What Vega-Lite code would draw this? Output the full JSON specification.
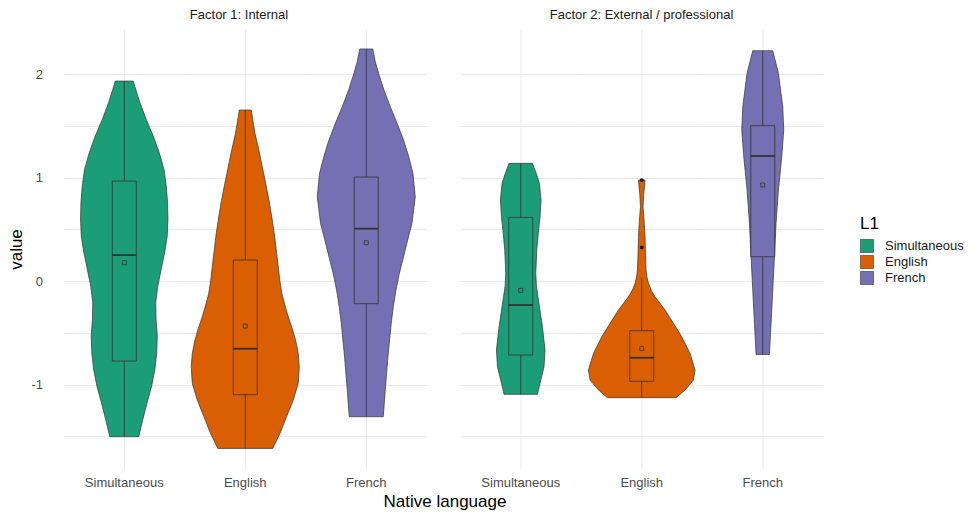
{
  "$schema": "https://vega.github.io/schema/vega-lite/v6.json",
  "padding": {"left": 7, "top": 9, "right": 0, "bottom": 0},
  "background": "white",
  "title": {"text": "Native language", "orient": "bottom", "anchor": "middle", "fontSize": 17, "fontWeight": "normal", "color": "#000000", "offset": 4, "dx": -41},
  "config": {
    "font": "Liberation Sans",
    "view": {"stroke": null},
    "axis": {"gridColor": "#ebebeb", "gridWidth": 1, "domain": false, "ticks": false, "labelColor": "#4d4d4d", "labelFontSize": 13, "titleColor": "#000000", "titleFontSize": 17, "titleFontWeight": "normal"},
    "header": {"labelFontSize": 13, "labelColor": "#4d4d4d", "labelOrient": "bottom", "labelPadding": 8, "titleOrient": "top", "titleFontSize": 13, "titleFontWeight": "normal", "titleColor": "#1a1a1a", "titlePadding": -3},
    "legend": {"titleFontSize": 17, "titleFontWeight": "normal", "titleColor": "#000000", "labelFontSize": 13, "labelColor": "#1a1a1a", "symbolType": "square", "symbolSize": 169, "symbolStrokeColor": "#333333", "symbolStrokeWidth": 0.6, "symbolOpacity": 1, "rowPadding": 0, "titlePadding": 6, "labelOffset": 11}
  },
  "datasets": {
    "all": [
      {"factor": "F1", "L1": "Simultaneous", "kind": "violin", "value": 1.932, "left": -9.0, "right": 9.0},
      {"factor": "F1", "L1": "Simultaneous", "kind": "violin", "value": 1.85, "left": -11.5, "right": 11.5},
      {"factor": "F1", "L1": "Simultaneous", "kind": "violin", "value": 1.723, "left": -15.7, "right": 15.7},
      {"factor": "F1", "L1": "Simultaneous", "kind": "violin", "value": 1.56, "left": -22, "right": 22},
      {"factor": "F1", "L1": "Simultaneous", "kind": "violin", "value": 1.401, "left": -29, "right": 29},
      {"factor": "F1", "L1": "Simultaneous", "kind": "violin", "value": 1.24, "left": -35, "right": 35},
      {"factor": "F1", "L1": "Simultaneous", "kind": "violin", "value": 1.08, "left": -39.7, "right": 39.7},
      {"factor": "F1", "L1": "Simultaneous", "kind": "violin", "value": 0.92, "left": -42, "right": 42},
      {"factor": "F1", "L1": "Simultaneous", "kind": "violin", "value": 0.759, "left": -43.3, "right": 43.3},
      {"factor": "F1", "L1": "Simultaneous", "kind": "violin", "value": 0.598, "left": -43.7, "right": 43.7},
      {"factor": "F1", "L1": "Simultaneous", "kind": "violin", "value": 0.437, "left": -43, "right": 43},
      {"factor": "F1", "L1": "Simultaneous", "kind": "violin", "value": 0.28, "left": -40.5, "right": 40.5},
      {"factor": "F1", "L1": "Simultaneous", "kind": "violin", "value": 0.116, "left": -37, "right": 37},
      {"factor": "F1", "L1": "Simultaneous", "kind": "violin", "value": -0.05, "left": -33.5, "right": 33.5},
      {"factor": "F1", "L1": "Simultaneous", "kind": "violin", "value": -0.206, "left": -31.5, "right": 31.5},
      {"factor": "F1", "L1": "Simultaneous", "kind": "violin", "value": -0.37, "left": -31.8, "right": 31.8},
      {"factor": "F1", "L1": "Simultaneous", "kind": "violin", "value": -0.527, "left": -33, "right": 33},
      {"factor": "F1", "L1": "Simultaneous", "kind": "violin", "value": -0.69, "left": -32.5, "right": 32.5},
      {"factor": "F1", "L1": "Simultaneous", "kind": "violin", "value": -0.849, "left": -30.7, "right": 30.7},
      {"factor": "F1", "L1": "Simultaneous", "kind": "violin", "value": -1.01, "left": -27.5, "right": 27.5},
      {"factor": "F1", "L1": "Simultaneous", "kind": "violin", "value": -1.17, "left": -23, "right": 23},
      {"factor": "F1", "L1": "Simultaneous", "kind": "violin", "value": -1.34, "left": -18.5, "right": 18.5},
      {"factor": "F1", "L1": "Simultaneous", "kind": "violin", "value": -1.504, "left": -14.5, "right": 14.5},

      {"factor": "F1", "L1": "English", "kind": "violin", "value": 1.652, "left": -6.0, "right": 6.0},
      {"factor": "F1", "L1": "English", "kind": "violin", "value": 1.54, "left": -7.8, "right": 7.8},
      {"factor": "F1", "L1": "English", "kind": "violin", "value": 1.427, "left": -9.7, "right": 9.7},
      {"factor": "F1", "L1": "English", "kind": "violin", "value": 1.27, "left": -13.5, "right": 13.5},
      {"factor": "F1", "L1": "English", "kind": "violin", "value": 1.104, "left": -17, "right": 17},
      {"factor": "F1", "L1": "English", "kind": "violin", "value": 0.94, "left": -20.5, "right": 20.5},
      {"factor": "F1", "L1": "English", "kind": "violin", "value": 0.783, "left": -23.7, "right": 23.7},
      {"factor": "F1", "L1": "English", "kind": "violin", "value": 0.62, "left": -26.5, "right": 26.5},
      {"factor": "F1", "L1": "English", "kind": "violin", "value": 0.461, "left": -29, "right": 29},
      {"factor": "F1", "L1": "English", "kind": "violin", "value": 0.3, "left": -31, "right": 31},
      {"factor": "F1", "L1": "English", "kind": "violin", "value": 0.138, "left": -33, "right": 33},
      {"factor": "F1", "L1": "English", "kind": "violin", "value": 0.01, "left": -34.5, "right": 34.5},
      {"factor": "F1", "L1": "English", "kind": "violin", "value": -0.119, "left": -36.5, "right": 36.5},
      {"factor": "F1", "L1": "English", "kind": "violin", "value": -0.23, "left": -39.5, "right": 39.5},
      {"factor": "F1", "L1": "English", "kind": "violin", "value": -0.345, "left": -43, "right": 43},
      {"factor": "F1", "L1": "English", "kind": "violin", "value": -0.46, "left": -47, "right": 47},
      {"factor": "F1", "L1": "English", "kind": "violin", "value": -0.57, "left": -50.3, "right": 50.3},
      {"factor": "F1", "L1": "English", "kind": "violin", "value": -0.7, "left": -53, "right": 53},
      {"factor": "F1", "L1": "English", "kind": "violin", "value": -0.828, "left": -54, "right": 54},
      {"factor": "F1", "L1": "English", "kind": "violin", "value": -0.988, "left": -53, "right": 53},
      {"factor": "F1", "L1": "English", "kind": "violin", "value": -1.15, "left": -48, "right": 48},
      {"factor": "F1", "L1": "English", "kind": "violin", "value": -1.311, "left": -41.3, "right": 41.3},
      {"factor": "F1", "L1": "English", "kind": "violin", "value": -1.472, "left": -34.7, "right": 34.7},
      {"factor": "F1", "L1": "English", "kind": "violin", "value": -1.617, "left": -27.5, "right": 27.5},

      {"factor": "F1", "L1": "French", "kind": "violin", "value": 2.242, "left": -6.5, "right": 6.5},
      {"factor": "F1", "L1": "French", "kind": "violin", "value": 2.12, "left": -9, "right": 9},
      {"factor": "F1", "L1": "French", "kind": "violin", "value": 2.007, "left": -12.3, "right": 12.3},
      {"factor": "F1", "L1": "French", "kind": "violin", "value": 1.85, "left": -17.5, "right": 17.5},
      {"factor": "F1", "L1": "French", "kind": "violin", "value": 1.684, "left": -24, "right": 24},
      {"factor": "F1", "L1": "French", "kind": "violin", "value": 1.52, "left": -31, "right": 31},
      {"factor": "F1", "L1": "French", "kind": "violin", "value": 1.362, "left": -37.3, "right": 37.3},
      {"factor": "F1", "L1": "French", "kind": "violin", "value": 1.2, "left": -42.5, "right": 42.5},
      {"factor": "F1", "L1": "French", "kind": "violin", "value": 1.04, "left": -46.7, "right": 46.7},
      {"factor": "F1", "L1": "French", "kind": "violin", "value": 0.815, "left": -49, "right": 49},
      {"factor": "F1", "L1": "French", "kind": "violin", "value": 0.557, "left": -45.7, "right": 45.7},
      {"factor": "F1", "L1": "French", "kind": "violin", "value": 0.4, "left": -41.5, "right": 41.5},
      {"factor": "F1", "L1": "French", "kind": "violin", "value": 0.235, "left": -37.3, "right": 37.3},
      {"factor": "F1", "L1": "French", "kind": "violin", "value": 0.07, "left": -33, "right": 33},
      {"factor": "F1", "L1": "French", "kind": "violin", "value": -0.087, "left": -29.7, "right": 29.7},
      {"factor": "F1", "L1": "French", "kind": "violin", "value": -0.25, "left": -27, "right": 27},
      {"factor": "F1", "L1": "French", "kind": "violin", "value": -0.409, "left": -25, "right": 25},
      {"factor": "F1", "L1": "French", "kind": "violin", "value": -0.731, "left": -21.7, "right": 21.7},
      {"factor": "F1", "L1": "French", "kind": "violin", "value": -1.053, "left": -19, "right": 19},
      {"factor": "F1", "L1": "French", "kind": "violin", "value": -1.311, "left": -17, "right": 17},

      {"factor": "F2", "L1": "Simultaneous", "kind": "violin", "value": 1.137, "left": -11.7, "right": 11.7},
      {"factor": "F2", "L1": "Simultaneous", "kind": "violin", "value": 1.04, "left": -15.5, "right": 15.5},
      {"factor": "F2", "L1": "Simultaneous", "kind": "violin", "value": 0.944, "left": -18.7, "right": 18.7},
      {"factor": "F2", "L1": "Simultaneous", "kind": "violin", "value": 0.783, "left": -20.3, "right": 20.3},
      {"factor": "F2", "L1": "Simultaneous", "kind": "violin", "value": 0.621, "left": -19.3, "right": 19.3},
      {"factor": "F2", "L1": "Simultaneous", "kind": "violin", "value": 0.46, "left": -17.5, "right": 17.5},
      {"factor": "F2", "L1": "Simultaneous", "kind": "violin", "value": 0.3, "left": -16, "right": 16},
      {"factor": "F2", "L1": "Simultaneous", "kind": "violin", "value": 0.074, "left": -15, "right": 15},
      {"factor": "F2", "L1": "Simultaneous", "kind": "violin", "value": -0.05, "left": -15.7, "right": 15.7},
      {"factor": "F2", "L1": "Simultaneous", "kind": "violin", "value": -0.184, "left": -17.7, "right": 17.7},
      {"factor": "F2", "L1": "Simultaneous", "kind": "violin", "value": -0.441, "left": -21.7, "right": 21.7},
      {"factor": "F2", "L1": "Simultaneous", "kind": "violin", "value": -0.667, "left": -24.3, "right": 24.3},
      {"factor": "F2", "L1": "Simultaneous", "kind": "violin", "value": -0.828, "left": -23.3, "right": 23.3},
      {"factor": "F2", "L1": "Simultaneous", "kind": "violin", "value": -0.988, "left": -19.3, "right": 19.3},
      {"factor": "F2", "L1": "Simultaneous", "kind": "violin", "value": -1.095, "left": -16.7, "right": 16.7},

      {"factor": "F2", "L1": "English", "kind": "violin", "value": 0.976, "left": -3.3, "right": 3.3},
      {"factor": "F2", "L1": "English", "kind": "violin", "value": 0.9, "left": -2.6, "right": 2.6},
      {"factor": "F2", "L1": "English", "kind": "violin", "value": 0.847, "left": -2.0, "right": 2.0},
      {"factor": "F2", "L1": "English", "kind": "violin", "value": 0.718, "left": -1.3, "right": 1.3},
      {"factor": "F2", "L1": "English", "kind": "violin", "value": 0.589, "left": -2.3, "right": 2.3},
      {"factor": "F2", "L1": "English", "kind": "violin", "value": 0.428, "left": -3.3, "right": 3.3},
      {"factor": "F2", "L1": "English", "kind": "violin", "value": 0.268, "left": -3.7, "right": 3.7},
      {"factor": "F2", "L1": "English", "kind": "violin", "value": 0.106, "left": -4.3, "right": 4.3},
      {"factor": "F2", "L1": "English", "kind": "violin", "value": 0.04, "left": -5.2, "right": 5.2},
      {"factor": "F2", "L1": "English", "kind": "violin", "value": -0.022, "left": -6.7, "right": 6.7},
      {"factor": "F2", "L1": "English", "kind": "violin", "value": -0.09, "left": -9.5, "right": 9.5},
      {"factor": "F2", "L1": "English", "kind": "violin", "value": -0.152, "left": -13.3, "right": 13.3},
      {"factor": "F2", "L1": "English", "kind": "violin", "value": -0.28, "left": -23.3, "right": 23.3},
      {"factor": "F2", "L1": "English", "kind": "violin", "value": -0.409, "left": -31.7, "right": 31.7},
      {"factor": "F2", "L1": "English", "kind": "violin", "value": -0.538, "left": -40, "right": 40},
      {"factor": "F2", "L1": "English", "kind": "violin", "value": -0.699, "left": -48.3, "right": 48.3},
      {"factor": "F2", "L1": "English", "kind": "violin", "value": -0.86, "left": -53.3, "right": 53.3},
      {"factor": "F2", "L1": "English", "kind": "violin", "value": -0.957, "left": -51.7, "right": 51.7},
      {"factor": "F2", "L1": "English", "kind": "violin", "value": -1.053, "left": -43.3, "right": 43.3},
      {"factor": "F2", "L1": "English", "kind": "violin", "value": -1.127, "left": -34.3, "right": 34.3},

      {"factor": "F2", "L1": "French", "kind": "violin", "value": 2.225, "left": -10, "right": 10},
      {"factor": "F2", "L1": "French", "kind": "violin", "value": 2.007, "left": -15.7, "right": 15.7},
      {"factor": "F2", "L1": "French", "kind": "violin", "value": 1.684, "left": -20, "right": 20},
      {"factor": "F2", "L1": "French", "kind": "violin", "value": 1.459, "left": -21, "right": 21},
      {"factor": "F2", "L1": "French", "kind": "violin", "value": 1.201, "left": -19, "right": 19},
      {"factor": "F2", "L1": "French", "kind": "violin", "value": 0.879, "left": -15.7, "right": 15.7},
      {"factor": "F2", "L1": "French", "kind": "violin", "value": 0.557, "left": -13.3, "right": 13.3},
      {"factor": "F2", "L1": "French", "kind": "violin", "value": 0.235, "left": -11.7, "right": 11.7},
      {"factor": "F2", "L1": "French", "kind": "violin", "value": -0.087, "left": -10, "right": 10},
      {"factor": "F2", "L1": "French", "kind": "violin", "value": -0.409, "left": -8.3, "right": 8.3},
      {"factor": "F2", "L1": "French", "kind": "violin", "value": -0.709, "left": -6.7, "right": 6.7},

      {"factor": "F1", "L1": "Simultaneous", "kind": "box", "lower": -1.504, "q1": -0.773, "median": 0.251, "q3": 0.966, "upper": 1.932, "mean": 0.177},
      {"factor": "F1", "L1": "English", "kind": "box", "lower": -1.617, "q1": -1.098, "median": -0.654, "q3": 0.203, "upper": 1.652, "mean": -0.435},
      {"factor": "F1", "L1": "French", "kind": "box", "lower": -1.311, "q1": -0.219, "median": 0.506, "q3": 1.005, "upper": 2.242, "mean": 0.37},
      {"factor": "F2", "L1": "Simultaneous", "kind": "box", "lower": -1.095, "q1": -0.715, "median": -0.232, "q3": 0.615, "upper": 1.137, "mean": -0.09},
      {"factor": "F2", "L1": "English", "kind": "box", "lower": -1.127, "q1": -0.969, "median": -0.741, "q3": -0.48, "upper": 0.036, "mean": -0.651},
      {"factor": "F2", "L1": "French", "kind": "box", "lower": -0.709, "q1": 0.235, "median": 1.208, "q3": 1.501, "upper": 2.225, "mean": 0.928},

      {"factor": "F2", "L1": "English", "kind": "outlier", "value": 0.976},
      {"factor": "F2", "L1": "English", "kind": "outlier", "value": 0.325}
    ]
  },
  "hconcat": [
    {
      "data": {"name": "all"},
      "transform": [{"filter": "datum.factor == 'F1'"}],
      "facet": {"column": {"field": "L1", "type": "nominal", "sort": ["Simultaneous", "English", "French"], "title": "Factor 1: Internal"}},
      "spacing": 0,
      "bounds": "flush",
      "spec": {
        "width": 120.5,
        "height": 440,
        "layer": [
          {
            "transform": [{"filter": "datum.kind == 'violin'"}],
            "mark": {"type": "area", "orient": "horizontal", "stroke": "#333333", "strokeWidth": 0.7, "opacity": 1},
            "encoding": {
              "y": {"field": "value", "type": "quantitative", "scale": {"domain": [-1.816, 2.435], "nice": false, "zero": false},
                    "axis": {"values": [-1.5, -1, -0.5, 0, 0.5, 1, 1.5, 2], "labelExpr": "datum.value % 1 == 0 ? toString(datum.value) : ''", "title": "value", "offset": 12.5, "labelPadding": 9, "titlePadding": 5, "grid": true}},
              "x": {"field": "right", "type": "quantitative", "scale": {"domain": [-60.25, 60.25], "nice": false, "zero": false},
                    "axis": {"values": [0], "labels": false, "title": null, "grid": true}},
              "x2": {"field": "left"},
              "color": {"field": "L1", "type": "nominal", "scale": {"domain": ["Simultaneous", "English", "French"], "range": ["#1b9e77", "#d95f02", "#7570b3"]}, "legend": {"title": "L1", "orient": "none", "legendX": 796, "legendY": 187}}
            }
          },
          {
            "transform": [{"filter": "datum.kind == 'box'"}],
            "mark": {"type": "rule", "stroke": "#333333", "strokeWidth": 0.8},
            "encoding": {
              "y": {"field": "lower", "type": "quantitative"},
              "y2": {"field": "upper"},
              "x": {"datum": 0, "type": "quantitative"}
            }
          },
          {
            "transform": [{"filter": "datum.kind == 'box'"}],
            "mark": {"type": "rect", "stroke": "#333333", "strokeWidth": 0.8, "opacity": 1},
            "encoding": {
              "y": {"field": "q1", "type": "quantitative"},
              "y2": {"field": "q3"},
              "x": {"datum": -12, "type": "quantitative"},
              "x2": {"datum": 12},
              "color": {"field": "L1", "type": "nominal"}
            }
          },
          {
            "transform": [{"filter": "datum.kind == 'box'"}],
            "mark": {"type": "rule", "stroke": "#333333", "strokeWidth": 1.8},
            "encoding": {
              "y": {"field": "median", "type": "quantitative"},
              "x": {"datum": -12, "type": "quantitative"},
              "x2": {"datum": 12}
            }
          },
          {
            "transform": [{"filter": "datum.kind == 'box'"}],
            "mark": {"type": "point", "shape": "square", "size": 16, "filled": false, "stroke": "#333333", "strokeWidth": 0.8, "opacity": 1},
            "encoding": {
              "y": {"field": "mean", "type": "quantitative"},
              "x": {"datum": 0, "type": "quantitative"}
            }
          }
        ]
      }
    },
    {
      "data": {"name": "all"},
      "transform": [{"filter": "datum.factor == 'F2'"}],
      "facet": {"column": {"field": "L1", "type": "nominal", "sort": ["Simultaneous", "English", "French"], "title": "Factor 2: External / professional"}},
      "spacing": 0,
      "bounds": "flush",
      "spec": {
        "width": 120.5,
        "height": 440,
        "layer": [
          {
            "transform": [{"filter": "datum.kind == 'violin'"}],
            "mark": {"type": "area", "orient": "horizontal", "stroke": "#333333", "strokeWidth": 0.7, "opacity": 1},
            "encoding": {
              "y": {"field": "value", "type": "quantitative", "scale": {"domain": [-1.816, 2.435], "nice": false, "zero": false},
                    "axis": {"values": [-1.5, -1, -0.5, 0, 0.5, 1, 1.5, 2], "labels": false, "title": null, "grid": true}},
              "x": {"field": "right", "type": "quantitative", "scale": {"domain": [-60.25, 60.25], "nice": false, "zero": false},
                    "axis": {"values": [0], "labels": false, "title": null, "grid": true}},
              "x2": {"field": "left"},
              "color": {"field": "L1", "type": "nominal"}
            }
          },
          {
            "transform": [{"filter": "datum.kind == 'box'"}],
            "mark": {"type": "rule", "stroke": "#333333", "strokeWidth": 0.8},
            "encoding": {
              "y": {"field": "lower", "type": "quantitative"},
              "y2": {"field": "upper"},
              "x": {"datum": 0, "type": "quantitative"}
            }
          },
          {
            "transform": [{"filter": "datum.kind == 'box'"}],
            "mark": {"type": "rect", "stroke": "#333333", "strokeWidth": 0.8, "opacity": 1},
            "encoding": {
              "y": {"field": "q1", "type": "quantitative"},
              "y2": {"field": "q3"},
              "x": {"datum": -12, "type": "quantitative"},
              "x2": {"datum": 12},
              "color": {"field": "L1", "type": "nominal"}
            }
          },
          {
            "transform": [{"filter": "datum.kind == 'box'"}],
            "mark": {"type": "rule", "stroke": "#333333", "strokeWidth": 1.8},
            "encoding": {
              "y": {"field": "median", "type": "quantitative"},
              "x": {"datum": -12, "type": "quantitative"},
              "x2": {"datum": 12}
            }
          },
          {
            "transform": [{"filter": "datum.kind == 'box'"}],
            "mark": {"type": "point", "shape": "square", "size": 16, "filled": false, "stroke": "#333333", "strokeWidth": 0.8, "opacity": 1},
            "encoding": {
              "y": {"field": "mean", "type": "quantitative"},
              "x": {"datum": 0, "type": "quantitative"}
            }
          },
          {
            "transform": [{"filter": "datum.kind == 'outlier'"}],
            "mark": {"type": "point", "shape": "circle", "size": 14, "filled": true, "color": "#1a1a1a", "opacity": 1},
            "encoding": {
              "y": {"field": "value", "type": "quantitative"},
              "x": {"datum": 0, "type": "quantitative"}
            }
          }
        ]
      }
    }
  ],
  "spacing": 33.5
}
